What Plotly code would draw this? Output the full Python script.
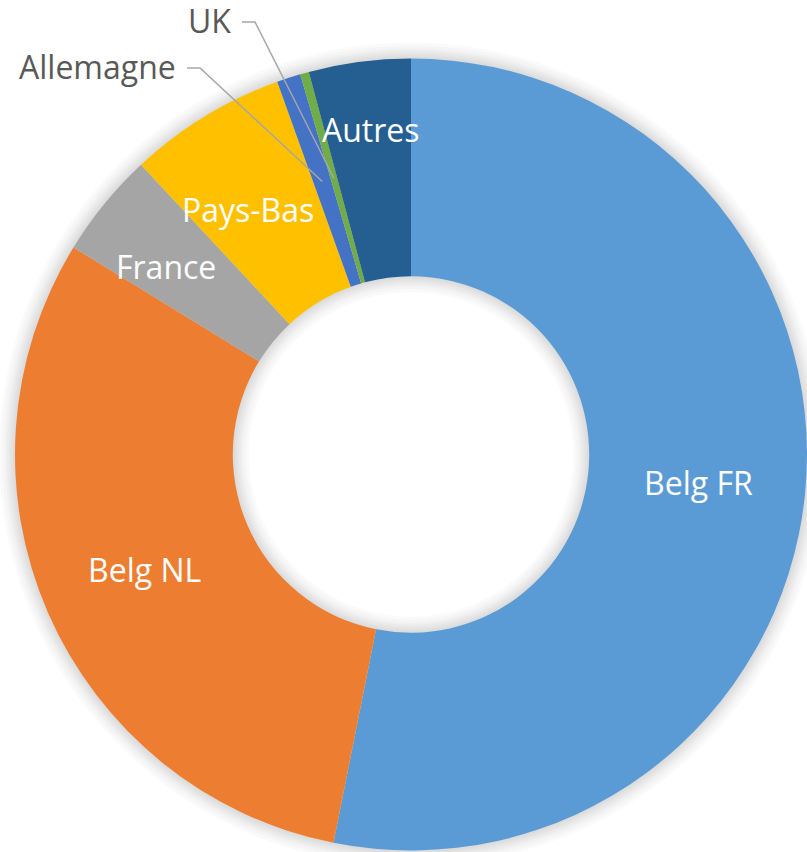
import math
import plotly.graph_objects as go

# ---- data ----
labels = ["Belg FR", "Belg NL", "France", "Pays-Bas", "Allemagne", "UK", "Autres"]
values = [53.1, 30.6, 4.3, 6.45, 0.97, 0.36, 4.15]
colors = ["#5B9BD5", "#ED7D31", "#A5A5A5", "#FFC000", "#4472C4", "#70AD47", "#255E91"]
outside_labels = ["Allemagne", "UK"]

# ---- layout geometry (pixels) ----
W, H = 807, 852
CX, CY, R = 411.0, 454.5, 396.0
HOLE = 0.45
r_in = R * HOLE
FONT = "Open Sans"
FSIZE = 32

def px2paper(px, py):
    return px / W, 1 - py / H

dom_x = [(CX - R) / W, min(1.0, (CX + R) / W)]
dom_y = [max(0.0, 1 - (CY + R) / H), 1 - (CY - R) / H]

fig = go.Figure()

# soft shadow around ring (annuli drawn below the pie)
shapes = []
def circle_pts(rad, n=180, rev=False):
    pts = []
    rng = range(n, -1, -1) if rev else range(n + 1)
    for k in rng:
        t = 2 * math.pi * k / n
        x, y = px2paper(CX + rad * math.cos(t), CY + rad * math.sin(t))
        pts.append((x, y))
    return pts

for d in [2, 4, 6, 8, 10, 13, 16]:
    outer = circle_pts(R + d)
    inner = circle_pts(max(r_in - d, 1), rev=True)
    path = "M " + " L ".join(f"{x:.5f},{y:.5f}" for x, y in outer) + " Z "
    path += "M " + " L ".join(f"{x:.5f},{y:.5f}" for x, y in inner) + " Z"
    shapes.append(dict(type="path", path=path, xref="paper", yref="paper",
                       fillcolor="rgba(0,0,0,0.018)", line=dict(width=0), layer="below"))

fig.add_trace(go.Pie(
    labels=labels, values=values, hole=HOLE, sort=False, direction="clockwise",
    rotation=0, marker=dict(colors=colors, line=dict(width=0)),
    textinfo="none", hoverinfo="label+percent", showlegend=False,
    domain=dict(x=dom_x, y=dom_y),
))

# label positions computed from data (mid-angle, middle of the ring)
total = sum(values)
r_mid = (R + r_in) / 2
nudge = {"Belg FR": (2, 0), "Belg NL": (-3, 0), "France": (-23, 6),
         "Pays-Bas": (-14, 0), "Autres": (-3, 40)}
annotations = []
mids = {}
cum = 0.0
for lab, v in zip(labels, values):
    theta = 2 * math.pi * (cum + v / 2) / total
    cum += v
    px = CX + r_mid * math.sin(theta)
    py = CY - r_mid * math.cos(theta)
    mids[lab] = (px, py)
    if lab in outside_labels:
        continue
    x, y = px2paper(px, py)
    dx, dy = nudge.get(lab, (0, 0))
    annotations.append(dict(x=x, y=y, xref="paper", yref="paper", text=lab,
                            showarrow=False, xanchor="center", yanchor="middle",
                            xshift=dx, yshift=dy,
                            font=dict(family=FONT, size=FSIZE, color="white")))

# outside labels with leader lines
out_pos = {"Allemagne": (178, 66), "UK": (233, 20)}
for lab in outside_labels:
    tx, ty = out_pos[lab]
    x, y = px2paper(tx, ty)
    annotations.append(dict(x=x, y=y, xref="paper", yref="paper", text=lab,
                            showarrow=False, xanchor="right", yanchor="middle",
                            font=dict(family=FONT, size=FSIZE, color="#595959")))
    ex, ey = mids[lab]
    p0 = px2paper(tx + 9, ty + 2)
    p1 = px2paper(tx + 22, ty + 2)
    p2 = px2paper(ex, ey)
    shapes.append(dict(type="path", xref="paper", yref="paper",
                       path=f"M {p0[0]:.5f},{p0[1]:.5f} L {p1[0]:.5f},{p1[1]:.5f} L {p2[0]:.5f},{p2[1]:.5f}",
                       line=dict(color="#A6A6A6", width=1.5), layer="above"))

fig.update_layout(
    width=W, height=H, margin=dict(l=0, r=0, t=0, b=0),
    paper_bgcolor="white", plot_bgcolor="white",
    shapes=shapes, annotations=annotations,
)
fig.write_html("out.html", config={"displayModeBar": False},
               post_script="document.body.style.margin='0';")
